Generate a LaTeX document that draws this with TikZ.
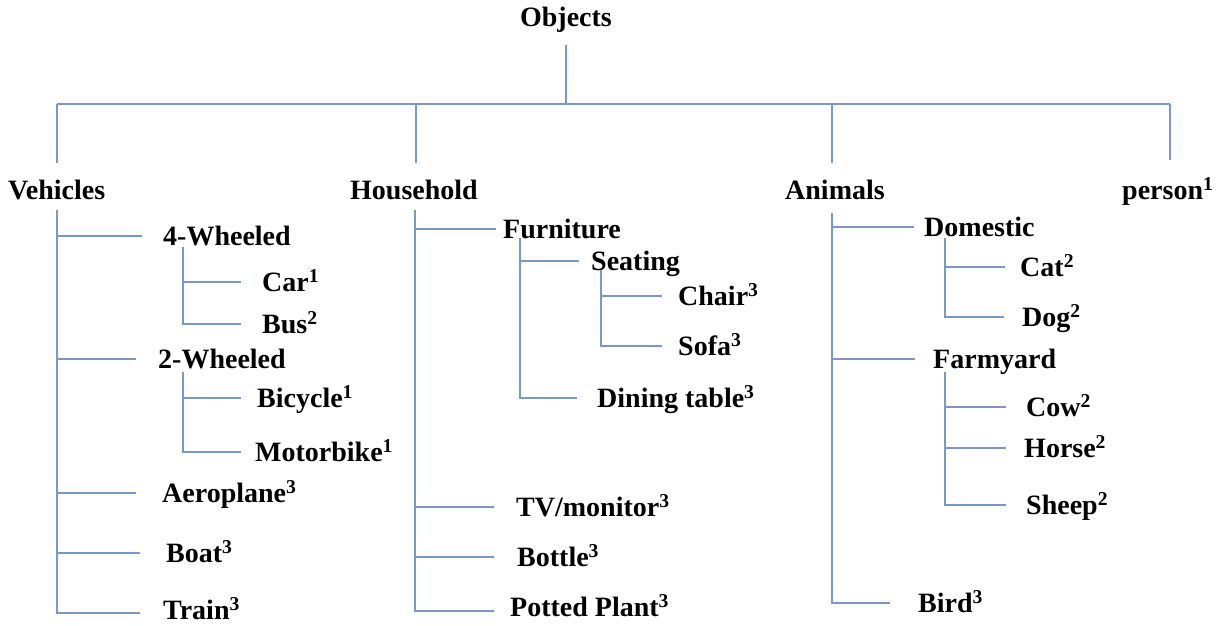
\documentclass[tikz,border=0pt]{standalone}
\usepackage{fontspec}
\setmainfont{Liberation Serif}
\definecolor{lncol}{RGB}{122,152,196}
\begin{document}
\begin{tikzpicture}[x=1pt,y=-1pt,
  lbl/.style={font=\fontsize{28}{32}\selectfont\bfseries, inner sep=0pt, text height=19pt, text depth=0pt, anchor=west},
  ln/.style={draw=lncol, line width=1.4pt}]
\useasboundingbox (0,0) rectangle (1225,625);
% root and top level
\node[lbl, anchor=center] (obj) at (566,17) {Objects};
\node[lbl] (veh) at (8,190) {Vehicles};
\node[lbl] (hh) at (350,190) {Household};
\node[lbl] (ani) at (785,190) {Animals};
\node[lbl] (per) at (1122,190) {person\textsuperscript{1}};
\coordinate (objb) at (566,45);
\coordinate (bar) at (566,104);
\coordinate (vd) at (57,104);
\coordinate (hd) at (416,104);
\coordinate (ad) at (832,104);
\coordinate (pd) at (1170,104);
\draw[ln] (objb) -- (bar);
\draw[ln] (vd) -- (pd);
\draw[ln] (vd) -- ++(0,59);
\draw[ln] (hd) -- ++(0,59);
\draw[ln] (ad) -- ++(0,59);
\draw[ln] (pd) -- ++(0,56);
% Vehicles
\node[lbl] (w4) at (163,236) {4-Wheeled};
\node[lbl] (car) at (262,282) {Car\textsuperscript{1}};
\node[lbl] (bus) at (262,324) {Bus\textsuperscript{2}};
\node[lbl] (w2) at (158,359) {2-Wheeled};
\node[lbl] (bic) at (257,398) {Bicycle\textsuperscript{1}};
\node[lbl] (mot) at (255,452) {Motorbike\textsuperscript{1}};
\node[lbl] (aer) at (162,493) {Aeroplane\textsuperscript{3}};
\node[lbl] (boat) at (166,553) {Boat\textsuperscript{3}};
\node[lbl] (train) at (163,610) {Train\textsuperscript{3}};
\coordinate (vt) at (57,210);
\coordinate (w4t) at (183,247);
\coordinate (w2t) at (183,372);
\draw[ln] (vt) |- ([xshift=-23pt,yshift=-3pt]train.west);
\draw[ln] (vt |- w4.west) -- ([xshift=-21pt]w4.west);
\draw[ln] (vt |- w2.west) -- ([xshift=-22pt]w2.west);
\draw[ln] (vt |- aer.west) -- ([xshift=-26pt]aer.west);
\draw[ln] (vt |- boat.west) -- ([xshift=-26pt]boat.west);
\draw[ln] (w4t) |- ([xshift=-21pt]bus.west);
\draw[ln] (w4t |- car.west) -- ([xshift=-21pt]car.west);
\draw[ln] (w2t) |- ([xshift=-14pt]mot.west);
\draw[ln] (w2t |- bic.west) -- ([xshift=-16pt]bic.west);
% Household
\node[lbl] (fur) at (503,229) {Furniture};
\node[lbl] (seat) at (591,261) {Seating};
\node[lbl] (chair) at (678,296) {Chair\textsuperscript{3}};
\node[lbl] (sofa) at (678,346) {Sofa\textsuperscript{3}};
\node[lbl] (din) at (597,398) {Dining table\textsuperscript{3}};
\node[lbl] (tv) at (516,507) {TV/monitor\textsuperscript{3}};
\node[lbl] (bot) at (517,557) {Bottle\textsuperscript{3}};
\node[lbl] (pot) at (510,607) {Potted Plant\textsuperscript{3}};
\coordinate (ht) at (415,210);
\coordinate (ft) at (520,238);
\coordinate (st) at (601,270);
\draw[ln] (ht) |- ([xshift=-16pt,yshift=-4pt]pot.west);
\draw[ln] (ht |- fur.west) -- ([xshift=-7pt]fur.west);
\draw[ln] (ht |- tv.west) -- ([xshift=-22pt]tv.west);
\draw[ln] (ht |- bot.west) -- ([xshift=-23pt]bot.west);
\draw[ln] (ft) |- ([xshift=-20pt]din.west);
\draw[ln] (ft |- seat.west) -- ([xshift=-12pt]seat.west);
\draw[ln] (st) |- ([xshift=-16pt]sofa.west);
\draw[ln] (st |- chair.west) -- ([xshift=-16pt]chair.west);
% Animals
\node[lbl] (dom) at (924,227) {Domestic};
\node[lbl] (cat) at (1020,267) {Cat\textsuperscript{2}};
\node[lbl] (dog) at (1022,317) {Dog\textsuperscript{2}};
\node[lbl] (farm) at (933,359) {Farmyard};
\node[lbl] (cow) at (1026,407) {Cow\textsuperscript{2}};
\node[lbl] (horse) at (1024,448) {Horse\textsuperscript{2}};
\node[lbl] (sheep) at (1026,505) {Sheep\textsuperscript{2}};
\node[lbl] (bird) at (918,603) {Bird\textsuperscript{3}};
\coordinate (at) at (832,213);
\coordinate (dt) at (945,238);
\coordinate (fy) at (945,372);
\draw[ln] (at) |- ([xshift=-28pt]bird.west);
\draw[ln] (at |- dom.west) -- ([xshift=-10pt]dom.west);
\draw[ln] (at |- farm.west) -- ([xshift=-18pt]farm.west);
\draw[ln] (dt) |- ([xshift=-18pt]dog.west);
\draw[ln] (dt |- cat.west) -- ([xshift=-15pt]cat.west);
\draw[ln] (fy) |- ([xshift=-20pt]sheep.west);
\draw[ln] (fy |- cow.west) -- ([xshift=-20pt]cow.west);
\draw[ln] (fy |- horse.west) -- ([xshift=-18pt]horse.west);
\end{tikzpicture}
\end{document}
